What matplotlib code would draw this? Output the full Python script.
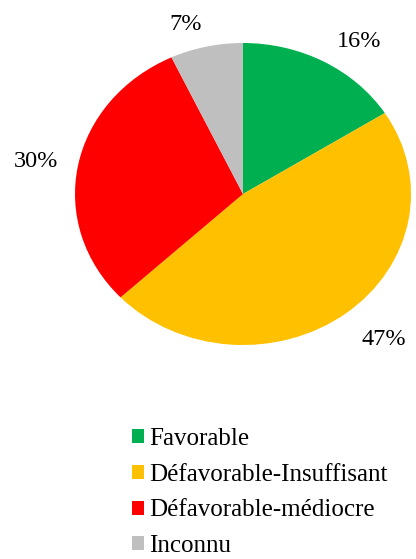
import numpy as np
import matplotlib
matplotlib.use("Agg")
import matplotlib.pyplot as plt
from matplotlib.patches import Patch

categories = ["Favorable", "Défavorable-Insuffisant", "Défavorable-médiocre", "Inconnu"]
values = [16, 47, 30, 7]
colors = ["#00B050", "#FFC000", "#FF0000", "#BFBFBF"]

plt.rcParams["font.family"] = ["Liberation Serif", "DejaVu Serif"]

W, H = 416, 559
fig = plt.figure(figsize=(W / 100, H / 100), dpi=100)

# pie drawn in an axes whose unit circle spans an oval region
left, right, top, bottom = 75, 411, 43, 345
ax = fig.add_axes([left / W, (H - bottom) / H, (right - left) / W, (bottom - top) / H])
wedges, _ = ax.pie(
    values, colors=colors, startangle=90, counterclock=False,
    wedgeprops={"linewidth": 0},
)
ax.set_aspect("auto")
ax.set_xlim(-1, 1)
ax.set_ylim(-1, 1)
ax.axis("off")

# percentage labels placed just outside each wedge, anchored on the side facing the pie
total = sum(values)
gap = 20  # pixels between the pie rim and the label
for w, v in zip(wedges, values):
    mid = np.deg2rad((w.theta1 + w.theta2) / 2)
    c, s = np.cos(mid), np.sin(mid)
    ha = "left" if c > 0 else "right"
    if abs(s) < 0.5:
        va = "center"
    else:
        va = "baseline" if s > 0 else "top"
    ax.annotate(f"{100 * v / total:.0f}%", xy=(c, s),
                xytext=(gap * c + 3 * (c > 0), gap * s - 3 * (s > 0.5)),
                textcoords="offset pixels", ha=ha, va=va,
                fontsize=17.5, color="black", annotation_clip=False)

handles = [Patch(facecolor=c, edgecolor="none") for c in colors]
fig.legend(
    handles, categories, loc="upper left", bbox_to_anchor=(127 / W, 1 - 423 / H),
    frameon=False, fontsize=18, handlelength=0.48, handleheight=0.48,
    handletextpad=0.2, labelspacing=0.55, borderaxespad=0, borderpad=0.2,
)

fig.savefig("out.png", dpi=100)
